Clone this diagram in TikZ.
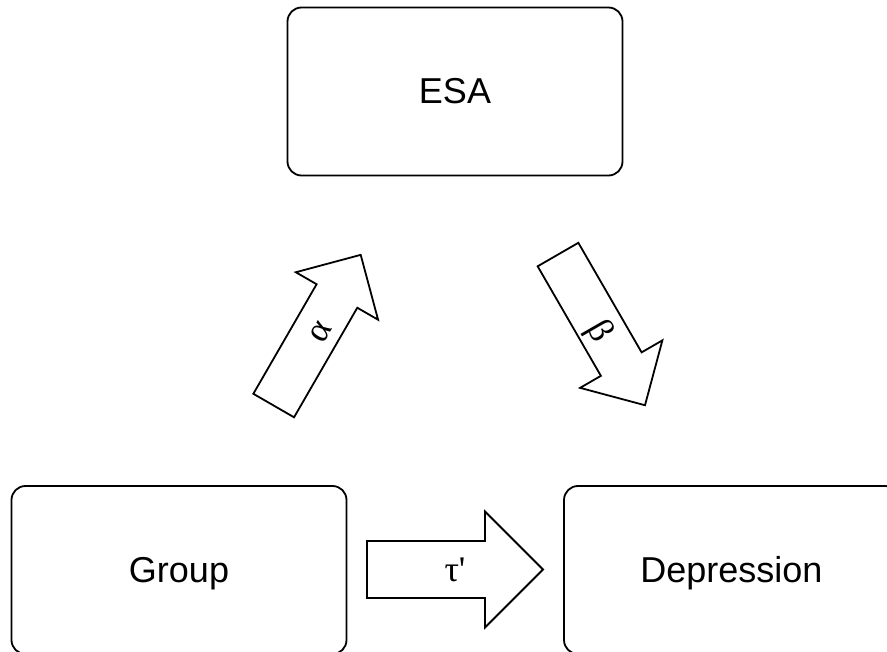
\documentclass[tikz,border=0pt]{standalone}
\usepackage{fontspec}
\setmainfont{Liberation Sans}
\newfontfamily\greekfont{Liberation Serif}
\newcommand\blkarrow[8]{% name, center, angle, length, body width, head width, head length, label
  \begin{scope}[shift={#2}, rotate=#3]
    \draw[blockarrow] ({-#4/2},{-#5/2}) -- ({#4/2-#7},{-#5/2}) -- ({#4/2-#7},{-#6/2}) -- ({#4/2},0)
      -- ({#4/2-#7},{#6/2}) -- ({#4/2-#7},{#5/2}) -- ({-#4/2},{#5/2}) -- cycle;
    \node[glabel, rotate=#3] (#1) at (0,0) {#8};
  \end{scope}}
\begin{document}
\begin{tikzpicture}[x=1pt,y=-1pt,
  box/.style={draw=black, line width=1.8pt, rounded corners=14pt,
    minimum width=335pt, minimum height=168pt, inner sep=0pt,
    text height=32.6pt, text depth=7.6pt,
    font=\fontsize{36}{43}\selectfont},
  blockarrow/.style={draw=black, line width=1.8pt, line join=miter, fill=white},
  glabel/.style={inner sep=0pt, text height=32.1pt, text depth=7.8pt,
    font=\greekfont\fontsize{36}{43}\selectfont}]
\useasboundingbox (0,0) rectangle (887,652);
\clip (0,0) rectangle (887,652);
\node[box] (esa) at (455,91.5) {ESA};
\node[box] (group) at (179,570) {Group};
\node[box] (dep) at (731.5,570) {Depression};
\blkarrow{alpha}{(317.2,330.2)}{60}{174}{47}{95}{47.5}{α}
\blkarrow{beta}{(601.5,329.9)}{-60}{174}{47}{95}{47.5}{β}
\blkarrow{tau}{(455,569.5)}{0}{176}{57}{116}{58}{τ\textquotesingle}
\end{tikzpicture}
\end{document}
